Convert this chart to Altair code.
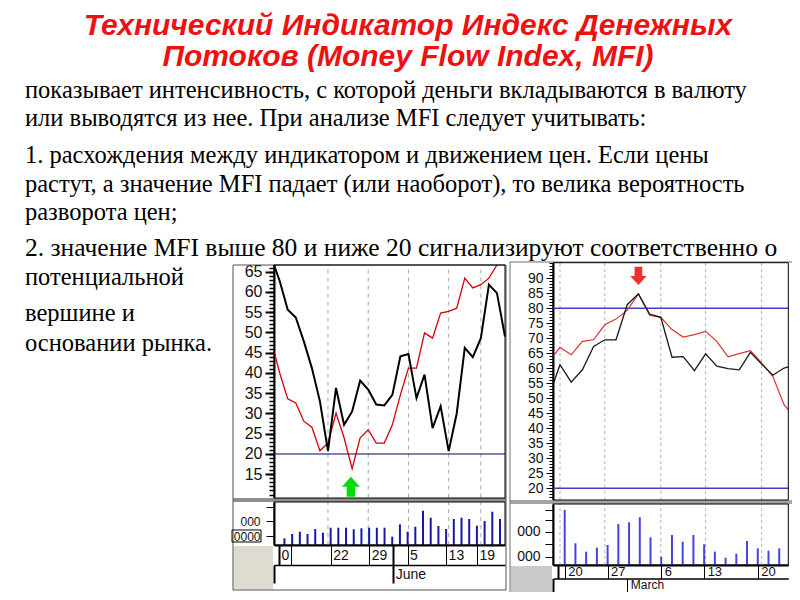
import altair as alt
import pandas as pd

# ---------------- slide text ----------------
title_lines = [
    "Технический Индикатор Индекс Денежных",
    "Потоков (Money Flow Index, MFI)",
]
body_lines = [
    "показывает интенсивность, с которой деньги вкладываются в валюту",
    "или выводятся из нее. При анализе MFI следует учитывать:",
    "1. расхождения между индикатором и движением цен. Если цены",
    "растут, а значение MFI падает (или наоборот), то велика вероятность",
    "разворота цен;",
    "2. значение MFI выше 80 и ниже 20 сигнализируют соответственно о",
    "потенциальной",
    "вершине и",
    "основании рынка.",
]

# ---------------- left chart (May - June), trading-day index ----------------
left_mfi_day = list(range(-1, 29))
left_mfi = [67, 62.7, 55.6, 53.7, 47.8, 41.2, 33.0, 20.7, 36.3, 27.2, 30.5, 38.1, 35.9, 32.2, 32.0,
            34.6, 44.1, 44.7, 33.8, 39.6, 26.4, 31.8, 20.7, 30.0, 46.2, 43.9, 48.6, 61.8, 59.7, 49.0]
left_red_day = list(range(-1, 28))
left_red = [45.3, 40.0, 33.6, 32.6, 28.1, 26.6, 20.8, 22.7, 30.1, 24.0, 16.4, 24.0, 26.0, 22.7, 22.7,
            27.2, 34.6, 41.2, 41.2, 49.9, 48.6, 54.8, 55.2, 56.0, 63.4, 61.0, 61.8, 63.4, 67.0]
left_vol_day = list(range(0, 29))
left_vol = [670, 1100, 1330, 1100, 1600, 1230, 1730, 1730, 1730, 1570, 1670, 1730, 1730, 1730, 830,
            2070, 1330, 1830, 3430, 2730, 1900, 1600, 2600, 2730, 2600, 1930, 2400, 3330, 2600]
left_grid_day = [6, 11, 16, 21, 25]
left_level = [20]
left_date_day = [0.87, 6, 11, 14.1, 16, 21, 25]
left_date_label = ["", "22", "29", "", "5", "13", "19"]
left_edge_label = "0"
left_month_day = [14.1]
left_month_label = ["June"]
left_signal_day = [8.85]
left_signal_value = [11.9]
left_price_ticks = list(range(15, 70, 5))
left_vol_ticks = [900, 2400, 3800]
left_vol_tick_labels = ["0000", "000", ""]

# ---------------- right chart (February - March) ----------------
right_day = list(range(-1, 22))
right_mfi = [54.5, 61.2, 55.4, 59.5, 67.3, 69.5, 69.5, 81.2, 84.8, 78.1, 77.0, 63.7, 63.9, 59.2,
             64.8, 60.7, 59.9, 59.5, 65.3, 61.4, 57.7, 60.1, 60.5]
right_red = [64.0, 67.0, 64.5, 69.0, 69.5, 74.5, 76.4, 79.3, 84.8, 77.7, 77.0, 72.9, 70.4, 71.2,
             72.3, 69.0, 63.8, 64.9, 65.9, 61.8, 57.3, 47.9, 46.2]
right_vol_day = list(range(0, 21))
right_vol = [5500, 2170, 1330, 1730, 2000, 4100, 4270, 4770, 2770, 830, 3000, 2330, 3000, 2070,
             1330, 730, 1130, 2400, 1670, 1430, 1670]
right_grid_day = [0, 4, 9, 13, 18]
right_level = [80, 20]
right_date_day = [0, 4, 9, 13, 18]
right_date_label = ["20", "27", "6", "13", "20"]
right_month_day = [6]
right_month_label = ["March"]
right_signal_day = [7]
right_signal_value = [90.8]
right_price_ticks = list(range(20, 95, 5))
right_vol_ticks = [830, 2070, 3330, 4500, 5500]
right_vol_tick_labels = ["000", "", "000", "", ""]

# ---------------- layout (page pixels) ----------------
W, H = 784, 584


def cx(x):
    return x - 8


def cy(y):
    return y - 8


AXF = "Liberation Sans"
one = pd.DataFrame({"k": [0]})


def sc(domain, rng):
    return alt.Scale(domain=domain, range=rng, nice=False, zero=False, clamp=True)


LXD = [-0.708, 28.0]
LPD = [9.26, 66.65]
LVD = [0, 4300]
RXD = [-0.625, 20.38]
RPD = [16.1, 95.2]
RVD = [0, 6100]
LX = sc(LXD, [cx(274), cx(505)])
LPY = sc(LPD, [cy(497.5), cy(265)])
LVY = sc(LVD, [cy(545), cy(502)])
RX = sc(RXD, [cx(553), cx(788.3)])
RPY = sc(RPD, [cy(500), cy(262.7)])
RVY = sc(RVD, [cy(565), cy(504)])


def lab_expr(pos, labs):
    e = "''"
    for p, l in reversed(list(zip(pos, labs))):
        e = f"abs(datum.value - ({p})) < 0.001 ? '{l}' : ({e})"
    return e


def box(x0, y0, x1, y1, **kw):
    return alt.Chart(one).mark_rect(**kw).encode(
        x=alt.value(cx(x0)), x2=alt.value(cx(x1)), y=alt.value(cy(y0)), y2=alt.value(cy(y1)))


def txt(s, x, y, **kw):
    return alt.Chart(pd.DataFrame({"t": [s]})).mark_text(**kw).encode(
        text="t:N", x=alt.value(cx(x)), y=alt.value(cy(y)))


def y_axis(xpos, values, tick, labels=True, domain=True, size=14, pad=3, expr=None, tw=1):
    kw = dict(orient="left", offset=-cx(xpos), values=values, tickSize=tick, tickColor="black",
              tickWidth=tw, domain=domain, domainColor="black", domainWidth=2, labels=labels,
              grid=False, title="", labelFont=AXF, labelFontSize=size, labelColor="#111111",
              labelPadding=pad, labelOverlap=False, labelFlush=False)
    if expr:
        kw["labelExpr"] = expr
    return alt.Axis(**kw)


def x_axis(ypos, values, expr, tick, width_cond, size, pad, loff, dw):
    return alt.Axis(orient="bottom", offset=cy(ypos) - H, values=values, labelExpr=expr,
                    tickSize=tick, tickColor="black", tickWidth=width_cond,
                    domainColor="black", domainWidth=dw, grid=False, title="",
                    labelAlign="left", labelBaseline="middle", labelPadding=pad,
                    labelOffset=loff, labelFont=AXF, labelFontSize=size,
                    labelColor="#111111", labelOverlap=False, labelFlush=False)


up_arrow = "M0,-1L0.9,0L0.42,0L0.42,1L-0.42,1L-0.42,0L-0.9,0Z"
down_arrow = "M0,1L0.9,0L0.42,0L0.42,-1L-0.42,-1L-0.42,0L-0.9,0Z"

layers = []

# panel backgrounds / separators
layers += [
    box(233.5, 546, 273, 589.5, fill="#DEDCD0"),
    box(510.5, 566, 552, 597.5, fill="#CACACA"),
    box(233, 498, 506, 502, fill="#8E8E8E"),
    box(510, 500, 797, 504, fill="#A4A4A4"),
    box(233, 265, 506, 590, fillOpacity=0, stroke="#505050", strokeWidth=1),
    box(510, 262, 797, 598, fillOpacity=0, stroke="#707070", strokeWidth=1),
]

# ---------- left chart ----------
lg = pd.DataFrame({"d": left_grid_day})
layers.append(alt.Chart(lg).mark_rule(color="#A8A8A8", strokeDash=[4, 4], strokeWidth=1).encode(
    x=alt.X("d:Q", scale=LX, axis=None),
    y=alt.Y(datum=LPD[0], scale=LPY, axis=None), y2=alt.Y2(datum=LPD[1])))
lmonth_vals = [LXD[0]] + left_month_day
layers.append(alt.Chart(lg).mark_rule(color="#A8A8A8", strokeDash=[4, 4], strokeWidth=1).encode(
    x=alt.X("d:Q", scale=LX, axis=x_axis(
        565, lmonth_vals, lab_expr(lmonth_vals, [""] + left_month_label), 18,
        2, 14, -9, 2, 1.5)),
    y=alt.Y(datum=LVD[0], scale=LVY, axis=None), y2=alt.Y2(datum=LVD[1])))
layers.append(alt.Chart(pd.DataFrame({"lv": left_level})).mark_rule(color="#000088", strokeWidth=1).encode(
    y=alt.Y("lv:Q", scale=LPY, axis=None),
    x=alt.X(datum=LXD[0], scale=LX, axis=None), x2=alt.X2(datum=LXD[1])))

ldate_vals = [LXD[0]] + left_date_day
ldate_labs = [left_edge_label] + left_date_label
thick_l = f"datum.value < 0 || abs(datum.value - ({left_month_day[0]})) < 0.001"
layers.append(alt.Chart(pd.DataFrame({"d": left_vol_day, "v": left_vol})).mark_bar(size=2, color="#1818A8").encode(
    x=alt.X("d:Q", scale=LX, axis=x_axis(
        545, ldate_vals, lab_expr(ldate_vals, ldate_labs), 20,
        {"condition": {"test": thick_l, "value": 2}, "value": 1}, 14, -10, 2, 2)),
    y=alt.Y("v:Q", scale=LVY, axis=y_axis(274, left_vol_ticks, 8, size=12, pad=6,
                                          expr=lab_expr(left_vol_ticks, left_vol_tick_labels)))))

layers.append(alt.Chart(pd.DataFrame({"d": left_red_day, "v": left_red})).mark_line(color="#D80000", strokeWidth=1.3).encode(
    x=alt.X("d:Q", scale=LX, axis=None),
    y=alt.Y("v:Q", scale=LPY, axis=y_axis(274, list(range(10, 67)), 5, labels=False, domain=False, tw=1.5))))
layers.append(alt.Chart(pd.DataFrame({"d": left_mfi_day, "v": left_mfi})).mark_line(color="#000000", strokeWidth=2).encode(
    x=alt.X("d:Q", scale=LX, axis=None),
    y=alt.Y("v:Q", scale=LPY, axis=y_axis(274, left_price_ticks, 9, size=16, pad=3, tw=2))))
layers.append(alt.Chart(pd.DataFrame({"d": left_signal_day, "v": left_signal_value})).mark_point(
    shape=up_arrow, size=400, filled=True, fill="#00DD00", opacity=1, strokeWidth=0).encode(
    x=alt.X("d:Q", scale=LX, axis=None), y=alt.Y("v:Q", scale=LPY, axis=None)))

# ---------- right chart ----------
rg = pd.DataFrame({"d": right_grid_day})
layers.append(alt.Chart(rg).mark_rule(color="#B4B4B4", strokeDash=[3, 3], strokeWidth=1).encode(
    x=alt.X("d:Q", scale=RX, axis=None),
    y=alt.Y(datum=RPD[0], scale=RPY, axis=None), y2=alt.Y2(datum=RPD[1])))
rmonth_vals = [RXD[0]] + right_month_day
layers.append(alt.Chart(rg).mark_rule(color="#B4B4B4", strokeDash=[3, 3], strokeWidth=1).encode(
    x=alt.X("d:Q", scale=RX, axis=x_axis(
        578.5, rmonth_vals, lab_expr(rmonth_vals, [""] + right_month_label), 14,
        {"condition": {"test": "datum.value < 0", "value": 2}, "value": 1}, 12, -8, 3, 1.5)),
    y=alt.Y(datum=RVD[0], scale=RVY, axis=None), y2=alt.Y2(datum=RVD[1])))
layers.append(alt.Chart(pd.DataFrame({"lv": right_level})).mark_rule(color="#4040C8", strokeWidth=1.5).encode(
    y=alt.Y("lv:Q", scale=RPY, axis=None),
    x=alt.X(datum=RXD[0], scale=RX, axis=None), x2=alt.X2(datum=RXD[1])))

rdate_vals = [RXD[0]] + right_date_day
layers.append(alt.Chart(pd.DataFrame({"d": right_vol_day, "v": right_vol})).mark_bar(size=2, color="#4444E0").encode(
    x=alt.X("d:Q", scale=RX, axis=x_axis(
        565, rdate_vals, lab_expr(rdate_vals, [""] + right_date_label), 13.5,
        {"condition": {"test": "datum.value < 0", "value": 2}, "value": 1}, 13, -7, 3, 2)),
    y=alt.Y("v:Q", scale=RVY, axis=y_axis(553, right_vol_ticks, 8, size=14, pad=5,
                                          expr=lab_expr(right_vol_ticks, right_vol_tick_labels)))))

layers.append(alt.Chart(pd.DataFrame({"d": right_day, "v": right_red})).mark_line(color="#E03030", strokeWidth=1.2).encode(
    x=alt.X("d:Q", scale=RX, axis=None),
    y=alt.Y("v:Q", scale=RPY, axis=y_axis(553, list(range(17, 96)), 4, labels=False, domain=False))))
layers.append(alt.Chart(pd.DataFrame({"d": right_day, "v": right_mfi})).mark_line(color="#1A1A1A", strokeWidth=1.3).encode(
    x=alt.X("d:Q", scale=RX, axis=None),
    y=alt.Y("v:Q", scale=RPY, axis=y_axis(553, right_price_ticks, 7, size=14, pad=3))))
layers.append(alt.Chart(pd.DataFrame({"d": right_signal_day, "v": right_signal_value})).mark_point(
    shape=down_arrow, size=335, filled=True, fill="#F03030", opacity=1, strokeWidth=0).encode(
    x=alt.X("d:Q", scale=RX, axis=None), y=alt.Y("v:Q", scale=RPY, axis=None)))

# plot borders
layers += [
    box(274, 265, 505, 498, fillOpacity=0, stroke="black", strokeWidth=1),
    box(274, 502, 505, 545, fillOpacity=0, stroke="black", strokeWidth=1),
    box(553, 262.7, 788.3, 500, fillOpacity=0, stroke="black", strokeWidth=1),
    box(553, 504, 788.3, 565, fillOpacity=0, stroke="black", strokeWidth=1),
    box(232, 530, 261, 542, fillOpacity=0, stroke="black", strokeWidth=1),
]

# ---------- text ----------
title_y = [35, 66]
for s, y in zip(title_lines, title_y):
    layers.append(txt(s, 408, y, font="Liberation Sans", fontSize=30, fontWeight="bold",
                      fontStyle="italic", color="#EE1111", align="center", baseline="alphabetic"))
body_y = [98, 126, 163, 192, 220, 256, 285, 321, 351]
body_size = [24.5, 24.5, 24.5, 24.5, 24.5, 25.5, 24.5, 24.5, 24.5]
for s, y, fs in zip(body_lines, body_y, body_size):
    layers.append(txt(s, 25, y, font="Liberation Serif", fontSize=fs, color="#000000",
                      align="left", baseline="alphabetic"))

chart = alt.layer(*layers).resolve_scale(x="independent", y="independent").properties(
    width=W, height=H, padding=0, autosize="none", background="white"
).configure_view(stroke=None)

chart.save("out.html", embed_options={"renderer": "svg", "actions": False})
